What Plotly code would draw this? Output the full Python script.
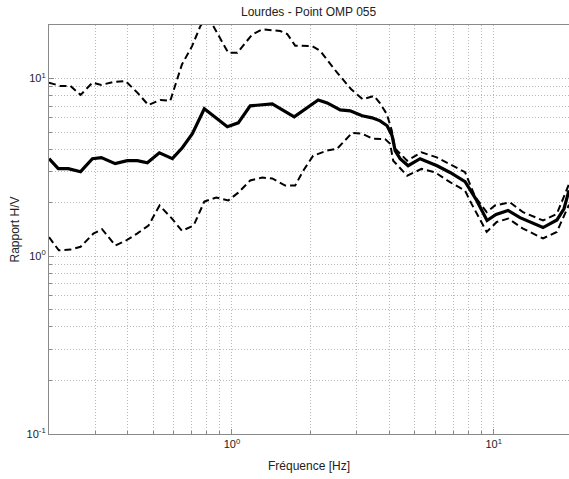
import plotly.graph_objects as go
import math

# ---- data ----
freq_mean = [0.200, 0.217, 0.237, 0.264, 0.293, 0.317, 0.358, 0.398, 0.435, 0.475,
             0.528, 0.592, 0.646, 0.706, 0.784, 0.960, 1.057, 1.174, 1.425, 1.729,
             2.135, 2.311, 2.591, 2.829, 3.143, 3.431, 3.681, 3.915, 4.091, 4.201,
             4.389, 4.710, 5.232, 6.076, 6.811, 7.772, 8.561, 9.428, 10.21, 11.34,
             12.60, 15.43, 17.44, 18.55, 19.39]
hv_mean = [3.54, 3.11, 3.11, 2.99, 3.54, 3.59, 3.32, 3.45, 3.45, 3.36,
           3.82, 3.54, 4.08, 4.89, 6.75, 5.35, 5.63, 7.02, 7.20, 6.09,
           7.58, 7.29, 6.66, 6.58, 6.17, 6.01, 5.78, 5.42, 4.76, 3.93,
           3.54, 3.23, 3.54, 3.23, 2.96, 2.63, 2.09, 1.59, 1.72, 1.81,
           1.65, 1.45, 1.60, 1.85, 2.35]

freq_up = [0.200, 0.221, 0.2415, 0.264, 0.293, 0.317, 0.352, 0.392, 0.435, 0.479,
           0.533, 0.581, 0.644, 0.704, 0.757, 0.791, 0.841, 0.968, 1.048, 1.195,
           1.305, 1.529, 1.626, 1.744, 2.026, 2.173, 2.523, 2.854, 3.157, 3.493,
           3.681, 3.905, 4.081, 4.20, 4.39, 4.669, 5.30, 6.06, 7.77, 8.48,
           9.40, 10.11, 11.54, 12.94, 15.43, 17.42, 19.39]
hv_up = [9.47, 9.08, 9.08, 8.08, 9.47, 9.20, 9.56, 9.68, 8.33, 7.10,
         7.58, 7.48, 12.0, 15.2, 19.7, 21.5, 20.2, 13.95, 13.95, 17.7,
         18.9, 18.5, 17.8, 15.3, 15.2, 14.3, 10.78, 8.70, 7.65, 7.98,
         7.24, 6.30, 5.08, 4.03, 3.78, 3.45, 3.84, 3.60, 2.97, 2.17,
         1.77, 1.93, 2.01, 1.77, 1.59, 1.73, 2.55]

freq_lo = [0.200, 0.218, 0.2415, 0.264, 0.2955, 0.319, 0.3585, 0.3915, 0.434, 0.480,
           0.529, 0.590, 0.644, 0.714, 0.784, 0.871, 0.968, 1.057, 1.174, 1.305,
           1.425, 1.597, 1.744, 1.872, 2.043, 2.311, 2.523, 2.88, 3.143, 3.461,
           3.847, 4.02, 4.13, 4.669, 5.30, 5.96, 6.81, 7.77, 8.23, 9.40,
           10.27, 11.37, 12.94, 15.43, 17.42, 19.39]
hv_lo = [1.28, 1.08, 1.09, 1.13, 1.34, 1.42, 1.15, 1.22, 1.34, 1.49,
         1.93, 1.63, 1.39, 1.49, 2.03, 2.14, 2.06, 2.28, 2.67, 2.77,
         2.74, 2.50, 2.50, 3.03, 3.68, 3.93, 4.03, 4.95, 4.89, 4.58,
         4.56, 4.30, 3.45, 2.84, 3.10, 2.97, 2.61, 2.34, 1.97, 1.37,
         1.56, 1.63, 1.43, 1.26, 1.37, 1.95]

x_major = [1, 10]
x_major_text = ["10<sup>0</sup>", "10<sup>1</sup>"]
y_major = [0.1, 1, 10]
y_major_text = ["10<sup>-1</sup>", "10<sup>0</sup>", "10<sup>1</sup>"]
x_minor = [0.2, 0.3, 0.4, 0.5, 0.6, 0.7, 0.8, 0.9, 2, 3, 4, 5, 6, 7, 8, 9]
y_minor = [0.2, 0.3, 0.4, 0.5, 0.6, 0.7, 0.8, 0.9, 2, 3, 4, 5, 6, 7, 8, 9, 20]

title_text = "Lourdes - Point OMP 055"
xlabel = "Fréquence [Hz]"
ylabel = "Rapport H/V"

FONT = "Liberation Sans, Arial, sans-serif"
GRID = "#b8b8b8"
GDASH = "1px,2px"
TXT = "#222222"

fig = go.Figure()
fig.add_trace(go.Scatter(x=freq_up, y=hv_up, mode="lines",
                         line=dict(color="black", width=2, dash="7px,4px"), showlegend=False))
fig.add_trace(go.Scatter(x=freq_lo, y=hv_lo, mode="lines",
                         line=dict(color="black", width=2, dash="7px,4px"), showlegend=False))
fig.add_trace(go.Scatter(x=freq_mean, y=hv_mean, mode="lines",
                         line=dict(color="black", width=3.2), showlegend=False))

axis_common = dict(
    type="log", showline=True, linecolor="#8a8a8a", linewidth=1.2,
    showgrid=True, gridcolor=GRID, griddash=GDASH, gridwidth=1,
    ticks="inside", ticklen=5, tickcolor="#8a8a8a", tickmode="array",
    tickfont=dict(family=FONT, size=11, color=TXT), zeroline=False,
)

fig.update_xaxes(**axis_common, range=[math.log10(0.2), math.log10(19.39)],
                 tickvals=x_major, ticktext=x_major_text, mirror=True,
                 minor=dict(tickmode="array", tickvals=x_minor, showgrid=True,
                            gridcolor=GRID, griddash=GDASH, gridwidth=1,
                            ticks="inside", ticklen=3, tickcolor="#8a8a8a"))
fig.update_yaxes(**axis_common, range=[-1, math.log10(20)],
                 tickvals=y_major, ticktext=y_major_text, mirror=False,
                 minor=dict(tickmode="array", tickvals=y_minor, showgrid=True,
                            gridcolor=GRID, griddash=GDASH, gridwidth=1,
                            ticks="inside", ticklen=3, tickcolor="#8a8a8a"))

L, R, T, B = 49, 0, 25, 45
W, H = 569, 479
plot_w = W - L - R
plot_h = H - T - B

fig.update_layout(
    width=W, height=H,
    margin=dict(l=L, r=R, t=T, b=B),
    plot_bgcolor="white", paper_bgcolor="white",
    font=dict(family=FONT, size=12, color=TXT),
    annotations=[
        dict(text=title_text, x=0.5, xref="paper", y=1 + (T - 12) / plot_h, yref="paper",
             showarrow=False, yanchor="middle", font=dict(family=FONT, size=12, color=TXT)),
        dict(text=xlabel, x=0.5, xref="paper", y=-(466 - (T + plot_h)) / plot_h, yref="paper",
             showarrow=False, yanchor="middle", font=dict(family=FONT, size=12, color=TXT)),
        dict(text=ylabel, x=-(L - 14) / plot_w, xref="paper", y=0.5, yref="paper",
             showarrow=False, textangle=-90, xanchor="center", yanchor="middle",
             font=dict(family=FONT, size=12, color=TXT)),
    ],
)

fig.write_html("out.html", config={"displayModeBar": False},
               post_script="document.body.style.margin='0';document.body.style.overflow='hidden';")
